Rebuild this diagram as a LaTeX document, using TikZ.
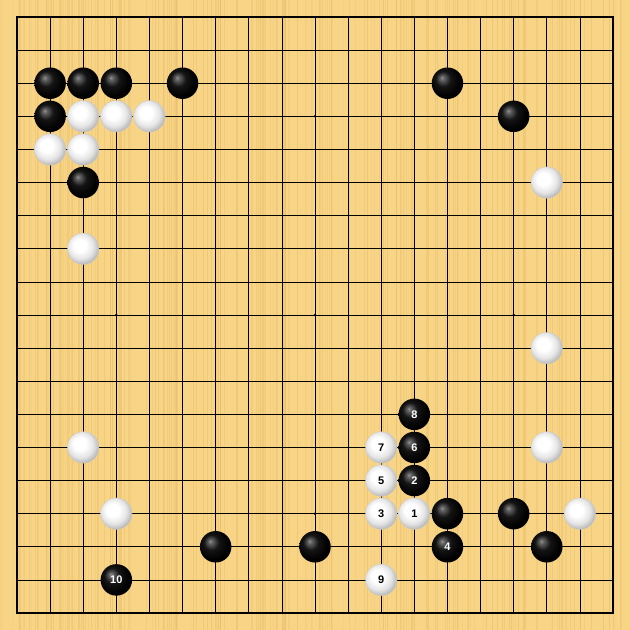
\documentclass[tikz,border=0pt]{standalone}
\usepackage{xcolor,tikz,fontspec}
\newfontfamily\stonefont{Liberation Sans}
\definecolor{woodbg}{RGB}{248,212,134}
\definecolor{woodline}{RGB}{232,190,105}
\pgfdeclareradialshading{blackball}{\pgfpoint{-9bp}{9bp}}{color(0bp)=(black!42); color(3bp)=(black!60); color(12bp)=(black!92); color(25bp)=(black); color(50bp)=(black)}
\pgfdeclareradialshading{whiteball}{\pgfpoint{-7bp}{7bp}}{color(0bp)=(white); color(10bp)=(white); color(20bp)=(black!10); color(28bp)=(black!28); color(36bp)=(black!38); color(50bp)=(black!38)}
\tikzset{
  blackstone/.style={circle, minimum size=31.5pt, inner sep=0pt, shading=blackball, text=white, font=\stonefont\bfseries\fontsize{11}{11}\selectfont},
  whitestone/.style={circle, minimum size=31.5pt, inner sep=0pt, shading=whiteball, draw=black!20, line width=0.3pt, text=black, font=\stonefont\bfseries\fontsize{11}{11}\selectfont}
}
\begin{document}
\begin{tikzpicture}[x=33.11pt, y=-33.11pt]
			\useasboundingbox (-0.5135,-0.5135) rectangle (18.5135,18.5135);
			% board
			\fill [woodbg] (-0.5135,-0.5135) rectangle (18.5135,18.5135);
			\pgfmathsetseed{7}
			\foreach \i in {0,...,220} {
				\pgfmathsetmacro{\xx}{-0.5135+rnd*19.027}
				\pgfmathsetmacro{\oo}{0.15+0.4*rnd}
				\draw [woodline, line width=0.5pt, opacity=\oo] (\xx,-0.5135) -- (\xx,18.5135);
			}
			\foreach \k in {1,...,17} {
				\draw [line width=0.7pt] (\k,0) -- (\k,18);
				\draw [line width=0.7pt] (0,\k) -- (18,\k);
			}
			\draw [line width=1.2pt] (0,0) rectangle (18,18);
			\foreach \a in {3,9,15} \foreach \b in {3,9,15}
				\fill (\a,\b) circle (1.4pt);
			% stones
			\foreach \c/\r in {1/2, 2/2, 3/2, 5/2, 13/2, 1/3, 15/3, 2/5, 13/15, 15/15, 6/16, 9/16, 16/16}
				\draw (\c,\r) node [blackstone] (b\c-\r) {};
			\foreach \c/\r in {2/3, 3/3, 4/3, 1/4, 2/4, 16/5, 2/7, 16/10, 2/13, 16/13, 3/15, 17/15}
				\draw (\c,\r) node [whitestone] (w\c-\r) {};
			% numbered moves
			\foreach \c/\r/\n in {12/14/2, 13/16/4, 12/13/6, 12/12/8, 3/17/10}
				\draw (\c,\r) node [blackstone] (m\n) {\n};
			\foreach \c/\r/\n in {12/15/1, 11/15/3, 11/14/5, 11/13/7, 11/17/9}
				\draw (\c,\r) node [whitestone] (m\n) {\n};
		\end{tikzpicture}
\end{document}
